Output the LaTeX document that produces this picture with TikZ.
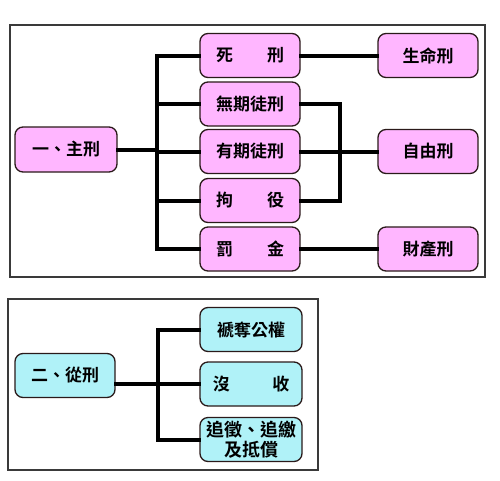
\documentclass[tikz,border=0pt]{standalone}
\usepackage{fontspec}
\setmainfont{Noto Sans CJK TC}[BoldFont={* Bold}]
\newfontfamily\cjk{Noto Sans CJK TC}[BoldFont={* Bold}]
\definecolor{pinkbox}{HTML}{FFB6FF}
\definecolor{cyanbox}{HTML}{B0F2F8}
\definecolor{edge}{HTML}{2A1A1A}
\definecolor{framec}{HTML}{3A3A3A}
\tikzset{
  box/.style={draw=edge, line width=1.3pt, rounded corners=8pt, minimum width=100pt, minimum height=44pt, inner sep=0pt, align=center, font=\cjk\bfseries\fontsize{17}{19}\selectfont},
  pbox/.style={box, fill=pinkbox},
  cbox/.style={box, fill=cyanbox},
  conn/.style={line width=4pt, line join=miter, line cap=rect, black},
  framebox/.style={draw=framec, line width=1.5pt}
}
\begin{document}
\begin{tikzpicture}[x=1pt,y=-1pt]
\useasboundingbox (0,0) rectangle (500,480);
\fill[white] (0,0) rectangle (500,480);
% frames
\draw[framebox] (10,25) rectangle (485,277);
\draw[framebox] (8,299) rectangle (318,470);
% frame 1 nodes
\node[pbox, minimum width=102pt, minimum height=45pt] (main1) at (66,149.5) {一、主刑};
\node[pbox] (d) at (250,55.5) {死\hspace{2em}刑};
\node[pbox] (w) at (250,104) {無期徒刑};
\node[pbox] (y) at (250,151.5) {有期徒刑};
\node[pbox] (j) at (250,200.5) {拘\hspace{2em}役};
\node[pbox] (f) at (250,249) {罰\hspace{2em}金};
\node[pbox] (sm) at (428,55.5) {生命刑};
\node[pbox] (zy) at (428,151.5) {自由刑};
\node[pbox] (cc) at (428,249) {財產刑};
\coordinate (t1) at (157,149.5);
\coordinate (t2) at (340,151.5);
\draw[conn] (main1.east) -- (t1);
\draw[conn] (d.west) -| (t1) |- (f.west);
\draw[conn] (w.west) -- (w.west -| t1);
\draw[conn] (y.west) -- (y.west -| t1);
\draw[conn] (j.west) -- (j.west -| t1);
\draw[conn] (w.east) -| (t2) |- (j.east);
\draw[conn] (y.east) -- (zy.west);
\draw[conn] (d.east) -- (sm.west);
\draw[conn] (f.east) -- (cc.west);
% frame 2 nodes
\node[cbox] (main2) at (65,375.5) {二、從刑};
\node[cbox, minimum width=102pt] (g1) at (251,329.5) {褫奪公權};
\node[cbox, minimum width=102pt] (g2) at (251,384) {沒\hspace{2.5em}收};
\node[cbox, minimum width=102pt, font=\cjk\bfseries\fontsize{18}{20}\selectfont] (g3) at (251,439.5) {追徵、追繳\\及抵償};
\coordinate (t3) at (158,384);
\draw[conn] (g2.west) -- (g2.west -| main2.east);
\draw[conn] (g1.west) -| (t3) |- (g3.west);
\end{tikzpicture}
\end{document}
